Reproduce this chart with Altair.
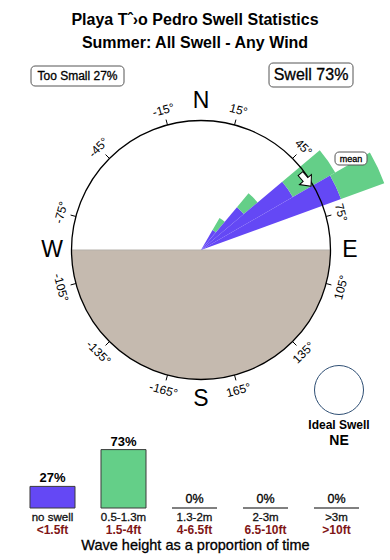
import math
import altair as alt
import pandas as pd

# ---------------- data ----------------
title_lines = ["Playa Tˆ›o Pedro Swell Statistics", "Summer: All Swell - Any Wind"]
too_small_label = "Too Small 27%"
swell_label = "Swell 73%"

# swell rose: direction bins (deg, clockwise from N) and relative frequency (circle = 100)
bin_start = [30, 40, 50, 60]
bin_end = [40, 50, 60, 70]
noswell_r = [17.8, 43.2, 81.9, 115.1]
total_r = [28.6, 57.1, 119.7, 150.6]
mean_dir = 56

tick_angles = [-165, -135, -105, -75, -45, -15, 15, 45, 75, 105, 135, 165]
cardinals = ["N", "E", "S", "W"]
cardinal_angles = [0, 90, 180, 270]

ideal_label = "Ideal Swell"
ideal_dir = "NE"

# wave height distribution
cats = ["no swell", "0.5-1.3m", "1.3-2m", "2-3m", ">3m"]
feet = ["<1.5ft", "1.5-4ft", "4-6.5ft", "6.5-10ft", ">10ft"]
pcts = [27, 73, 0, 0, 0]
bottom_title = "Wave height as a proportion of time"

# ---------------- styling ----------------
FONT = "Liberation Sans"
BLUE = "#6448f5"
GREEN = "#64cf88"
LAND = "#c5baaf"
CX, CY, R = 201, 250, 129.5
color_scale = alt.Scale(domain=cats, range=[BLUE, GREEN, "white", "white", "white"])
r_scale = alt.Scale(type="linear", domain=[0, 100], range=[0, R], zero=True)

one = pd.DataFrame({"k": [0]})


def text_layer(txt, x, y, size, weight="normal", color="black", align="center", medium=False):
    extra = {"stroke": color, "strokeWidth": 0.3} if medium else {}
    return alt.Chart(pd.DataFrame({"t": [txt]})).mark_text(
        font=FONT, fontSize=size, fontWeight=weight, color=color, align=align, baseline="middle", **extra
    ).encode(text="t:N", x=alt.value(x), y=alt.value(y))


def box_layer(x0, x1, y0, y1):
    return alt.Chart(one).mark_rect(
        fill="white", stroke="#555555", strokeWidth=1, cornerRadius=4
    ).encode(x=alt.value(x0), x2=alt.value(x1), y=alt.value(y0), y2=alt.value(y1))


# rose rows
rows = []
for a0, a1, rb, rt in zip(bin_start, bin_end, noswell_r, total_r):
    rows.append({"cls": cats[0], "d0": a0, "d1": a1, "r0": 0, "r1": rb})
    rows.append({"cls": cats[1], "d0": a0, "d1": a1, "r0": rb, "r1": rt})
rose_df = pd.DataFrame(rows)

land = alt.Chart(one).mark_arc(
    theta=math.pi / 2, theta2=3 * math.pi / 2, radius=R, color=LAND
).encode(x=alt.value(CX), y=alt.value(CY))

horizon = alt.Chart(one).mark_rule(color="#b5b0aa", strokeWidth=1).encode(
    x=alt.value(CX - R), x2=alt.value(CX + R), y=alt.value(CY)
)

wedges = alt.Chart(rose_df).transform_calculate(
    t0="datum.d0*PI/180", t1="datum.d1*PI/180"
).mark_arc().encode(
    x=alt.value(CX), y=alt.value(CY),
    theta=alt.Theta("t0:Q", scale=None), theta2="t1:Q",
    radius=alt.Radius("r1:Q", scale=r_scale), radius2="r0:Q",
    color=alt.Color("cls:N", scale=color_scale, legend=None),
)

circle = alt.Chart(one).mark_arc(
    theta=0, theta2=2 * math.pi, radius=R, fillOpacity=0, stroke="black", strokeWidth=1.3
).encode(x=alt.value(CX), y=alt.value(CY))

ticks = alt.Chart(pd.DataFrame({"a": tick_angles})).transform_calculate(
    xa=f"{CX}+{R}*sin(datum.a*PI/180)", ya=f"{CY}-{R}*cos(datum.a*PI/180)",
    xb=f"{CX}+{R+5.5}*sin(datum.a*PI/180)", yb=f"{CY}-{R+5.5}*cos(datum.a*PI/180)",
).mark_rule(color="black", strokeWidth=1).encode(
    x=alt.X("xa:Q", scale=None), y=alt.Y("ya:Q", scale=None), x2="xb:Q", y2="yb:Q"
)

tick_labels = alt.Chart(pd.DataFrame({"a": tick_angles})).transform_calculate(
    xl=f"{CX}+145*sin(datum.a*PI/180)", yl=f"{CY}-145*cos(datum.a*PI/180)",
    rot="(datum.a > -90 && datum.a < 90) ? (datum.a+360)%360 : (datum.a+540)%360",
    lab="datum.a + '°'",
).mark_text(font=FONT, fontSize=12, baseline="middle", align="center").encode(
    x=alt.X("xl:Q", scale=None), y=alt.Y("yl:Q", scale=None),
    angle=alt.Angle("rot:Q", scale=None), text="lab:N",
)

card = alt.Chart(pd.DataFrame({"c": cardinals, "a": cardinal_angles})).transform_calculate(
    xl=f"{CX}+149*sin(datum.a*PI/180)", yl=f"{CY}-149*cos(datum.a*PI/180)",
).mark_text(font=FONT, fontSize=23, baseline="middle", align="center").encode(
    x=alt.X("xl:Q", scale=None), y=alt.Y("yl:Q", scale=None), text="c:N"
)

ARROW = "M0,-1 L0.9,0 L0.35,0 L0.35,0.9 L-0.35,0.9 L-0.35,0 L-0.9,0 Z"
mean_arrow = alt.Chart(pd.DataFrame({"a": [mean_dir]})).transform_calculate(
    xm=f"{CX}+126*sin(datum.a*PI/180)", ym=f"{CY}-126*cos(datum.a*PI/180)",
).mark_point(
    shape=ARROW, filled=True, fill="white", stroke="black", strokeWidth=1,
    size=300, angle=140, opacity=1
).encode(x=alt.X("xm:Q", scale=None), y=alt.Y("ym:Q", scale=None))

mean_box = box_layer(335, 367, 152, 165)
mean_txt = text_layer("mean", 351, 158.5, 9, medium=True)

ideal_circle = alt.Chart(one).mark_arc(
    theta=0, theta2=2 * math.pi, radius=24.5, fillOpacity=0, stroke="#2f4f74", strokeWidth=1
).encode(x=alt.value(339), y=alt.value(390))

# bars
bars_df = pd.DataFrame({"cls": cats, "ft": feet, "pct": pcts})
x_band = alt.X("cls:N", scale=alt.Scale(domain=cats, range=[17, 372], paddingInner=0.366,
                                         paddingOuter=0.183), axis=None, sort=cats)
y_pct = alt.Y("pct:Q", scale=alt.Scale(domain=[0, 100], range=[508, 428]), axis=None)

bars = alt.Chart(bars_df).mark_bar().encode(
    x=x_band, y=y_pct, y2=alt.datum(0),
    color=alt.Color("cls:N", scale=color_scale, legend=None),
    stroke=alt.condition(alt.datum.pct == 0, alt.value("#808080"), alt.value("#3a3a3a")),
    strokeWidth=alt.condition(alt.datum.pct == 0, alt.value(2), alt.value(1)),
)
pct_big = alt.Chart(bars_df).transform_filter(alt.datum.pct > 0).transform_calculate(
    lab="datum.pct + '%'"
).mark_text(font=FONT, fontSize=13, fontWeight="bold", baseline="alphabetic", dy=-4).encode(
    x=x_band, y=y_pct, text="lab:N"
)
pct_zero = alt.Chart(bars_df).transform_filter(alt.datum.pct == 0).transform_calculate(
    lab="datum.pct + '%'"
).mark_text(font=FONT, fontSize=12.5, baseline="alphabetic", dy=-5, stroke="black",
            strokeWidth=0.3).encode(
    x=x_band, y=y_pct, text="lab:N"
)
cat_lab = alt.Chart(bars_df).mark_text(font=FONT, fontSize=11.5, baseline="middle", color="#111",
                                       stroke="#111", strokeWidth=0.3).encode(
    x=x_band, y=alt.value(518), text="cls:N"
)
ft_lab = alt.Chart(bars_df).mark_text(font=FONT, fontSize=12, fontWeight="bold", baseline="middle",
                                      color="#7f1616").encode(
    x=x_band, y=alt.value(529.5), text="ft:N"
)

chart = alt.layer(
    text_layer(title_lines[0], 195, 20, 16, "bold"),
    text_layer(title_lines[1], 195, 42.5, 16, "bold"),
    box_layer(31, 124, 66, 86),
    text_layer(too_small_label, 77.5, 76, 12, medium=True),
    box_layer(269, 353, 63, 87),
    text_layer(swell_label, 311, 75, 16, medium=True),
    land, horizon, wedges, circle, ticks, tick_labels, card,
    mean_arrow, mean_box, mean_txt,
    ideal_circle,
    text_layer(ideal_label, 339, 425, 12, "bold"),
    text_layer(ideal_dir, 339, 440.5, 14, "bold"),
    bars, pct_big, pct_zero, cat_lab, ft_lab,
    text_layer(bottom_title, 195.5, 546, 14.5, medium=True),
).properties(width=390, height=560, padding=0, autosize="none").configure_view(stroke=None)

chart.save("out.html", embed_options={"renderer": "svg", "actions": False})
